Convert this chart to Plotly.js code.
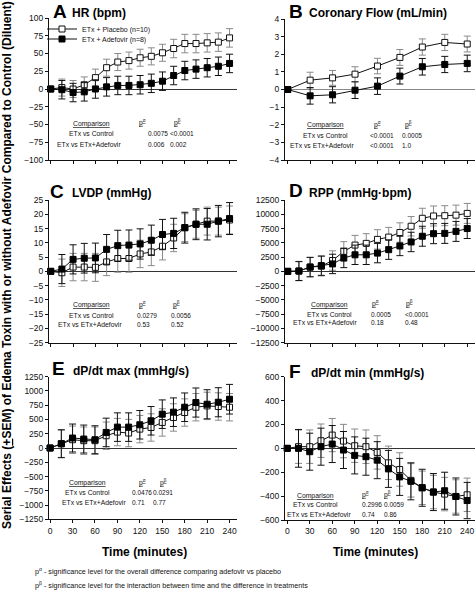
<!DOCTYPE html>
<html>
<head>
<meta charset="utf-8">
<script src="https://cdn.plot.ly/plotly-3.0.1.min.js"></script>
<style>html,body{margin:0;padding:0;background:#fff;}#chart{width:475px;height:590px;}</style>
</head>
<body>
<div id="chart"></div>
<script>
// ---- Data ----
const time15 = [0,15,30,45,60,75,90,105,120,135,150,165,180,195,210,225,240];
const time30 = [0,30,60,90,120,150,180,210,240];
const timeTicks = [0,30,60,90,120,150,180,210,240];

const hrPlacebo     = [0,2,0,6,16,30,38,40,44,46,51,57,64,64,65,66,72];
const hrPlaceboSem  = [0,12,12,11,12,12,12,12,12,12,12,13,13,13,13,13,13];
const hrAdefovir    = [0,-1,-5,-4,0,3,5,5,6,8,11,19,26,28,30,32,36];
const hrAdefovirSem = [0,13,13,13,13,13,13,13,13,13,13,13,13,13,13,13,13];

const cfPlacebo     = [0,0.53,0.66,0.87,1.33,1.82,2.41,2.67,2.58];
const cfPlaceboSem  = [0,0.45,0.42,0.42,0.44,0.45,0.46,0.46,0.45];
const cfAdefovir    = [0,-0.36,-0.3,-0.04,0.19,0.76,1.29,1.42,1.48];
const cfAdefovirSem = [0,0.47,0.46,0.47,0.47,0.45,0.47,0.46,0.47];

const lvdpPlacebo     = [0,-0.5,1.5,1.5,1.4,3.3,4.5,4.5,6.1,6.8,8.8,11.7,15.3,16.5,17.6,17.6,18.0];
const lvdpPlaceboSem  = [0,4.8,4.8,4.8,4.9,4.8,4.8,4.8,4.8,4.8,4.8,4.8,4.9,4.9,4.9,4.9,4.9];
const lvdpAdefovir    = [0,0.8,4.2,4.6,4.7,7.7,9.0,9.2,9.6,10.9,12.9,13.3,15.3,16.5,16.5,17.6,18.5];
const lvdpAdefovirSem = [0,5.1,5.1,5.2,5.2,5.2,5.4,5.3,5.3,5.3,5.3,5.3,5.4,5.4,5.5,5.5,5.6];

const rppPlacebo     = [0,50,750,900,1900,3500,4600,4900,5600,6000,6800,7900,9300,9700,9750,9850,10150];
const rppPlaceboSem  = [0,1700,1700,1700,1700,1700,1700,1700,1700,1700,1700,1700,1750,1750,1750,1750,1750];
const rppAdefovir    = [0,50,750,1000,1300,2350,2900,2900,3200,3800,4450,5150,6150,6600,6650,7000,7500];
const rppAdefovirSem = [0,1650,1700,1700,1700,1700,1700,1700,1700,1700,1700,1700,1750,1750,1750,1750,1750];

const dpmaxPlacebo     = [0,75,145,128,128,215,279,262,331,360,448,535,622,715,738,727,715];
const dpmaxPlaceboSem  = [0,240,240,240,240,240,240,240,240,240,240,240,240,240,240,240,240];
const dpmaxAdefovir    = [0,75,175,157,145,273,366,366,407,477,593,628,715,797,767,802,855];
const dpmaxAdefovirSem = [0,245,245,245,245,250,250,250,250,250,250,250,250,255,255,255,260];

const dpminPlacebo     = [0,14,14,64,111,61,22,14,-34,-121,-177,-268,-330,-366,-383,-403,-389];
const dpminPlaceboSem  = [0,140,140,140,139,140,140,140,140,140,140,140,140,140,140,140,140];
const dpminAdefovir    = [0,0,-28,14,36,-14,-59,-70,-99,-172,-239,-276,-330,-366,-355,-403,-437];
const dpminAdefovirSem = [0,158,155,155,155,155,155,155,155,155,155,155,155,155,155,155,152];

const seriesNames = ['ETx + Placebo (n=10)', 'ETx + Adefovir (n=8)'];

const panels = [
  {letter:'A', title:'HR (bpm)', x:time15, p:hrPlacebo, ps:hrPlaceboSem, a:hrAdefovir, as:hrAdefovirSem,
   range:[-100,100], dtick:25,
   table:{pa:['0.0075','0.006'], pb:['<0.0001','0.002']}},
  {letter:'B', title:'Coronary Flow (mL/min)', x:time30, p:cfPlacebo, ps:cfPlaceboSem, a:cfAdefovir, as:cfAdefovirSem,
   range:[-4,4], dtick:1,
   table:{pa:['<0.0001','<0.0001'], pb:['0.0005','1.0']}},
  {letter:'C', title:'LVDP (mmHg)', x:time15, p:lvdpPlacebo, ps:lvdpPlaceboSem, a:lvdpAdefovir, as:lvdpAdefovirSem,
   range:[-25,25], dtick:5,
   table:{pa:['0.0279','0.53'], pb:['0.0056','0.52']}},
  {letter:'D', title:'RPP (mmHg·bpm)', x:time15, p:rppPlacebo, ps:rppPlaceboSem, a:rppAdefovir, as:rppAdefovirSem,
   range:[-12500,12500], dtick:2500,
   table:{pa:['0.0005','0.18'], pb:['<0.0001','0.48']}},
  {letter:'E', title:'dP/dt max (mmHg/s)', x:time15, p:dpmaxPlacebo, ps:dpmaxPlaceboSem, a:dpmaxAdefovir, as:dpmaxAdefovirSem,
   range:[-1250,1250], dtick:250,
   table:{pa:['0.0476','0.71'], pb:['0.0291','0.77']}},
  {letter:'F', title:'dP/dt min (mmHg/s)', x:time15, p:dpminPlacebo, ps:dpminPlaceboSem, a:dpminAdefovir, as:dpminAdefovirSem,
   range:[-600,600], dtick:200,
   table:{pa:['0.2996','0.74'], pb:['0.0059','0.86']}}
];

// ---- Layout geometry (pixels) ----
const W = 475, H = 590;
const FONT = 'Liberation Sans, Arial, Helvetica, sans-serif';
const px = v => v / W;
const py = v => 1 - v / H;

const geom = [
  {x:[49,237],  y:[18,160],    xr:[-2.3,250],  lt:[51,11],  tt:[70,13]},
  {x:[285,475], y:[19,160],    xr:[-3.6,250.4],lt:[287,11], tt:[307,13]},
  {x:[49,237],  y:[200,342.7], xr:[-2.3,250],  lt:[48,191], tt:[70,193]},
  {x:[285,475], y:[200,342.7], xr:[-3.6,250.4],lt:[287,190],tt:[307,193]},
  {x:[49,237],  y:[376.7,519.3],xr:[-1.5,250], lt:[50,368], tt:[71,371]},
  {x:[285,475], y:[376.7,520], xr:[-3,250.5],  lt:[287,371],tt:[309,372.5]}
];

const tables = [
  {cx:91, c2x:89, pax:142, pbx:177, vax:146, vbx:168, y:[124,134,144]},
  {cx:325, c2x:322, pax:377, pbx:408, vax:367.5, vbx:399.5, y:[125,135,145]},
  {cx:91, c2x:90, pax:142, pbx:176, vax:135, vbx:169, y:[305,315,324]},
  {cx:329, c2x:325, pax:375, pbx:409, vax:369, vbx:403, y:[304.5,314,322.7]},
  {cx:87, c2x:94, pax:142, pbx:163, vax:129.5, vbx:151, y:[483,492.3,502]},
  {cx:315, c2x:319, pax:365, pbx:387, vax:360, vbx:381.5, y:[495.7,504.7,514.3]}
];

const traces = [];
const layout = {
  width: W, height: H,
  margin: {l:0, r:0, t:0, b:0, pad:0},
  paper_bgcolor: '#fff', plot_bgcolor: 'rgba(0,0,0,0)',
  font: {family: FONT, size: 8.5, color: '#111'},
  showlegend: true,
  annotations: [],
  legend: {x: px(42), y: py(29), xanchor:'left', yanchor:'middle', bgcolor:'rgba(0,0,0,0)',
           font:{family:FONT, size:7, color:'#111'}, itemwidth:30, tracegroupgap:0},
  legend2: {x: px(42), y: py(39), xanchor:'left', yanchor:'middle', bgcolor:'rgba(0,0,0,0)',
           font:{family:FONT, size:7, color:'#111'}, itemwidth:30, tracegroupgap:0}
};

panels.forEach((pn, i) => {
  const g = geom[i];
  const n = i + 1;
  const xa = 'xaxis' + (n === 1 ? '' : n);
  const ya = 'yaxis' + (n === 1 ? '' : n);
  const xref = 'x' + (n === 1 ? '' : n);
  const yref = 'y' + (n === 1 ? '' : n);
  const bottom = (i >= 4);

  layout[xa] = {
    domain: [px(g.x[0]), px(g.x[1])], anchor: yref, range: g.xr,
    showgrid: false, zeroline: false, showline: true, linecolor: '#111', linewidth: 1,
    ticks: 'outside', ticklen: 3, tickcolor: '#111', tickwidth: 1,
    tickmode: 'array', tickvals: timeTicks, ticktext: timeTicks.map(String),
    showticklabels: bottom, tickfont: {family: FONT, size: 8.5, color: '#111'},
    fixedrange: true
  };
  layout[ya] = {
    domain: [py(g.y[1]), py(g.y[0])], anchor: xref, range: pn.range,
    showgrid: false, zeroline: true, zerolinecolor: (i===1 ? '#888' : '#333'), zerolinewidth: 1,
    showline: true, linecolor: '#111', linewidth: 1,
    ticks: 'outside', ticklen: 3, tickcolor: '#111', tickwidth: 1,
    tick0: 0, dtick: pn.dtick, tickformat: 'd', tickfont: {family: FONT, size: 8.5, color: '#111'},
    fixedrange: true
  };

  traces.push({
    type: 'scatter', mode: 'lines+markers', x: pn.x, y: pn.p,
    xaxis: xref, yaxis: yref, name: seriesNames[0],
    showlegend: i === 0, legend: 'legend',
    line: {color: '#111', width: 1},
    marker: {symbol: 'square', size: 6, color: '#fff', line: {color: '#111', width: 1}},
    error_y: {type: 'data', array: pn.ps, visible: true, color: '#8a8a8a', thickness: 1, width: 3.5},
    cliponaxis: false
  });
  traces.push({
    type: 'scatter', mode: 'lines+markers', x: pn.x, y: pn.a,
    xaxis: xref, yaxis: yref, name: seriesNames[1],
    showlegend: i === 0, legend: 'legend2',
    line: {color: '#111', width: 1},
    marker: {symbol: 'square', size: 6, color: '#000', line: {color: '#000', width: 1}},
    error_y: {type: 'data', array: pn.as, visible: true, color: '#111', thickness: 1, width: 3.5},
    cliponaxis: false
  });

  layout.annotations.push({xref:'paper', yref:'paper', x:px(g.lt[0]), y:py(g.lt[1]), xanchor:'left', yanchor:'middle',
    text:'<b>'+pn.letter+'</b>', showarrow:false, font:{family:FONT, size:19, color:'#000'}});
  layout.annotations.push({xref:'paper', yref:'paper', x:px(g.tt[0]), y:py(g.tt[1]), xanchor:'left', yanchor:'middle',
    text:'<b>'+pn.title+'</b>', showarrow:false, font:{family:FONT, size:12, color:'#000'}});

  const t = tables[i];
  const lf = {family:FONT, size:6.8, color:'#111'};
  const vf = {family:FONT, size:6.5, color:'#111'};
  const add = (x, y, text, anchor, f) => layout.annotations.push({xref:'paper', yref:'paper', x:px(x), y:py(y),
    xanchor:anchor, yanchor:'middle', text:text, showarrow:false, font:f});
  add(t.cx, t.y[0], '<u>Comparison</u>', 'center', lf);
  add(t.pax, t.y[0]-1, '<u>p<sup>α</sup></u>', 'center', lf);
  add(t.pbx, t.y[0]-1, '<u>p<sup>β</sup></u>', 'center', lf);
  add(t.cx, t.y[1], 'ETx vs Control', 'center', lf);
  add(t.c2x, t.y[2], 'ETx vs ETx+Adefovir', 'center', lf);
  add(t.vax, t.y[1], pn.table.pa[0], 'left', vf);
  add(t.vax, t.y[2], pn.table.pa[1], 'left', vf);
  add(t.vbx, t.y[1], pn.table.pb[0], 'left', vf);
  add(t.vbx, t.y[2], pn.table.pb[1], 'left', vf);
});

layout.annotations.push({xref:'paper', yref:'paper', x:px(144), y:py(552), xanchor:'center', yanchor:'middle',
  text:'<b>Time (minutes)</b>', showarrow:false, font:{family:FONT, size:12, color:'#000'}});
layout.annotations.push({xref:'paper', yref:'paper', x:px(375), y:py(552), xanchor:'center', yanchor:'middle',
  text:'<b>Time (minutes)</b>', showarrow:false, font:{family:FONT, size:12, color:'#000'}});
layout.annotations.push({xref:'paper', yref:'paper', x:px(7), y:py(265), xanchor:'center', yanchor:'middle',
  textangle:-90, text:'<b>Serial Effects (<u>+</u>SEM) of Edema Toxin with or without Adefovir Compared to Control (Diluent)</b>',
  showarrow:false, font:{family:FONT, size:12, color:'#000'}});

layout.annotations.push({xref:'paper', yref:'paper', x:px(33), y:py(571), xanchor:'left', yanchor:'middle',
  text:'p<sup>α</sup> - significance level for the overall difference comparing adefovir vs placebo',
  showarrow:false, font:{family:FONT, size:7.2, color:'#111'}});
layout.annotations.push({xref:'paper', yref:'paper', x:px(33), y:py(585), xanchor:'left', yanchor:'middle',
  text:'p<sup>β</sup> - significance level for the interaction between time and the difference in treatments',
  showarrow:false, font:{family:FONT, size:7.2, color:'#111'}});

Plotly.newPlot('chart', traces, layout, {staticPlot: true, displayModeBar: false});
</script>
</body>
</html>
